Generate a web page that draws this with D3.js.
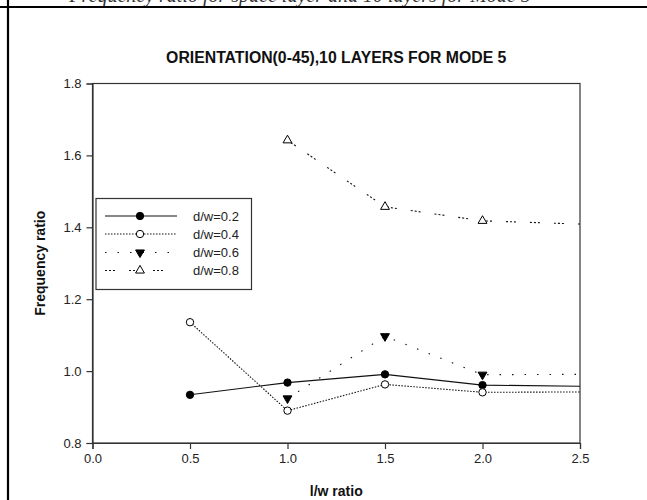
<!DOCTYPE html>
<html>
<head>
<meta charset="utf-8">
<script src="https://cdn.jsdelivr.net/npm/d3@7/dist/d3.min.js"></script>
<style>
  html, body { margin: 0; padding: 0; background: #fff; }
  svg { display: block; }
</style>
</head>
<body>
<svg id="chart" width="647" height="500"></svg>
<script>
// l/w ratio positions measured for each curve
const lwRatio = [0.5, 1.0, 1.5, 2.0, 2.5];
const seriesNames = ["d/w=0.2", "d/w=0.4", "d/w=0.6", "d/w=0.8"];
const freqDw02 = [0.934, 0.968, 0.991, 0.961, 0.958];
const freqDw04 = [1.136, 0.890, 0.963, 0.941, 0.942];
const freqDw06 = [null, 0.924, 1.097, 0.990, 0.991];
const freqDw08 = [null, 1.642, 1.457, 1.418, 1.409];
const xTicks = [0.0, 0.5, 1.0, 1.5, 2.0, 2.5];
const yTicks = [0.8, 1.0, 1.2, 1.4, 1.6, 1.8];

const svg = d3.select("#chart");
const margin = { left: 92.5, right: 580, top: 83.5, bottom: 443 };

const x = d3.scaleLinear().domain([0, 2.5]).range([margin.left, margin.right]);
const y = d3.scaleLinear().domain([0.8, 1.8]).range([margin.bottom, margin.top]);

// page frame: rule across the top and down the left edge
svg.append("text")
  .attr("x", 300).attr("y", 2)
  .attr("text-anchor", "middle")
  .attr("font-family", "Liberation Serif, Times New Roman, serif")
  .attr("font-style", "italic")
  .attr("font-size", 20)
  .attr("fill", "#333")
  .text("Frequency ratio for space layer and 10 layers for Mode 5");
svg.append("line").attr("x1", 0).attr("x2", 647).attr("y1", 7).attr("y2", 7)
  .attr("stroke", "#000").attr("stroke-width", 2.2);
svg.append("line").attr("x1", 8).attr("x2", 8).attr("y1", 0).attr("y2", 500)
  .attr("stroke", "#000").attr("stroke-width", 2.2);

// title
svg.append("text")
  .attr("x", (margin.left + margin.right) / 2).attr("y", 63)
  .attr("text-anchor", "middle")
  .attr("font-family", "Liberation Sans, Arial, sans-serif")
  .attr("font-weight", "bold").attr("font-size", 15.8)
  .attr("fill", "#111")
  .text("ORIENTATION(0-45),10 LAYERS FOR MODE 5");

// plot frame
svg.append("rect")
  .attr("x", margin.left).attr("y", margin.top)
  .attr("width", margin.right - margin.left).attr("height", margin.bottom - margin.top)
  .attr("fill", "none").attr("stroke", "#333").attr("stroke-width", 1.2);

// axes
const xAxis = d3.axisBottom(x).tickValues(xTicks).tickFormat(d3.format(".1f"))
  .tickSize(6).tickPadding(5);
const yAxis = d3.axisLeft(y).tickValues(yTicks).tickFormat(d3.format(".1f"))
  .tickSize(6).tickPadding(5);

const gx = svg.append("g").attr("transform", `translate(0,${margin.bottom})`).call(xAxis);
const gy = svg.append("g").attr("transform", `translate(${margin.left},0)`).call(yAxis);
[gx, gy].forEach(g => {
  g.select(".domain").attr("stroke", "#333").attr("stroke-width", 1.2);
  g.selectAll(".tick line").attr("stroke", "#333").attr("stroke-width", 1.2);
  g.selectAll(".tick text")
    .attr("font-family", "Liberation Sans, Arial, sans-serif")
    .attr("font-size", 13).attr("fill", "#222");
});

// axis titles
svg.append("text")
  .attr("x", (margin.left + margin.right) / 2).attr("y", 496)
  .attr("text-anchor", "middle")
  .attr("font-family", "Liberation Sans, Arial, sans-serif")
  .attr("font-weight", "bold").attr("font-size", 14).attr("fill", "#111")
  .text("l/w ratio");
svg.append("text")
  .attr("transform", `translate(45,${(margin.top + margin.bottom) / 2}) rotate(-90)`)
  .attr("text-anchor", "middle")
  .attr("font-family", "Liberation Sans, Arial, sans-serif")
  .attr("font-weight", "bold").attr("font-size", 14).attr("fill", "#111")
  .text("Frequency ratio");

// series styling
const series = [
  { name: seriesNames[0], values: freqDw02, dash: null, marker: "circle", fill: "#000" },
  { name: seriesNames[1], values: freqDw04, dash: "1.5,1.5", marker: "circle", fill: "#fff" },
  { name: seriesNames[2], values: freqDw06, dash: "1.5,11", marker: "down", fill: "#000" },
  { name: seriesNames[3], values: freqDw08, dash: "2,2,2,2,2,14", marker: "up", fill: "#fff" }
];

const line = d3.line()
  .defined(d => d.v != null)
  .x(d => x(d.x)).y(d => y(d.v));

function drawMarker(g, type, fill, cx, cy) {
  if (type === "circle") {
    g.append("circle").attr("cx", cx).attr("cy", cy).attr("r", 3.7)
      .attr("fill", fill).attr("stroke", "#000").attr("stroke-width", 1);
  } else {
    const path = d3.symbol().type(d3.symbolTriangle).size(34)();
    g.append("path").attr("d", path)
      .attr("transform", `translate(${cx},${cy})` + (type === "down" ? " rotate(180)" : ""))
      .attr("fill", fill).attr("stroke", "#000").attr("stroke-width", 1);
  }
}

const plot = svg.append("g");
series.forEach(s => {
  const pts = lwRatio.map((xv, i) => ({ x: xv, v: s.values[i] }));
  plot.append("path").datum(pts)
    .attr("d", line)
    .attr("fill", "none").attr("stroke", "#111").attr("stroke-width", 1.1)
    .attr("stroke-dasharray", s.dash);
  // markers sit on the measured points inside the frame; the last value only carries the curve to the edge
  pts.filter(p => p.v != null && p.x < 2.5).forEach(p => {
    drawMarker(plot, s.marker, s.fill, x(p.x), y(p.v));
  });
});

// legend
const legend = svg.append("g");
legend.append("rect")
  .attr("x", 96).attr("y", 198.5).attr("width", 155.5).attr("height", 91)
  .attr("fill", "#fff").attr("stroke", "#333").attr("stroke-width", 1.2);
const rowY = [216, 234, 252.5, 270.5];
series.forEach((s, i) => {
  legend.append("line")
    .attr("x1", 105).attr("x2", 177).attr("y1", rowY[i]).attr("y2", rowY[i])
    .attr("stroke", "#111").attr("stroke-width", 1.1)
    .attr("stroke-dasharray", s.dash);
  drawMarker(legend, s.marker, s.fill, 140, rowY[i]);
  legend.append("text")
    .attr("x", 193).attr("y", rowY[i] + 4.5)
    .attr("font-family", "Liberation Sans, Arial, sans-serif")
    .attr("font-size", 13).attr("fill", "#222")
    .text(s.name);
});
</script>
</body>
</html>
